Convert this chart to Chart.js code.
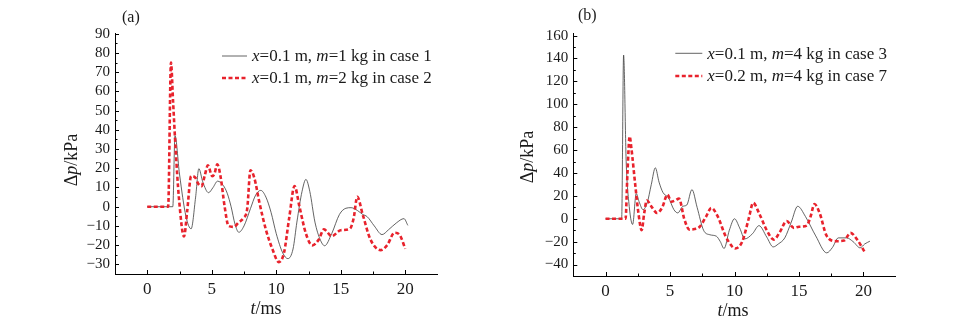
<!DOCTYPE html>
<html>
<head>
<meta charset="utf-8">
<script src="https://cdn.jsdelivr.net/npm/chart.js@4.4.1/dist/chart.umd.min.js"></script>
<style>
  html, body { margin: 0; padding: 0; background: #fff; }
  #wrap { position: relative; width: 962px; height: 325px; overflow: hidden; background: #fff; }
  .panel { position: absolute; top: 0; width: 481px; height: 325px; }
</style>
</head>
<body>
<div id="wrap">
  <div class="panel" style="left:0"><canvas id="chartA" width="481" height="325"></canvas></div>
  <div class="panel" style="left:481px"><canvas id="chartB" width="481" height="325"></canvas></div>
</div>
<script>
// ---- Pressure histories, t in ms, Δp in kPa ----
// (a) case 1: x=0.1 m, m=1 kg
const tCase1 = [0, 1.98, 2.15, 2.5, 3.0, 3.4, 3.75, 4.0, 4.3, 4.75, 5.1, 5.45, 5.9, 6.2, 6.5, 6.8, 7.1, 7.5, 8.0, 8.4, 8.8, 9.2, 9.6, 10.0, 10.5, 10.9, 11.3, 11.6, 12.0, 12.3, 12.6, 13.0, 13.4, 13.75, 14.3, 14.9, 15.4, 15.8, 16.3, 16.7, 17.05, 17.6, 18.2, 18.7, 19.3, 19.9, 20.2];
const pCase1 = [0, 0, 37, 17, -5, -11.5, 5, 19.8, 13, 7.3, 10, 13.3, 11, 7, 0, -9, -13.3, -10, -1, 6, 8.5, 5, -3, -14, -24, -27, -22, -8, 8, 14.2, 8, -8, -17, -20.3, -14, -4, -0.8, -0.5, -2, -4, -5.2, -10, -14.5, -12, -8.5, -6.2, -9.7];
// (a) case 2: x=0.1 m, m=2 kg
const tCase2 = [0, 1.62, 1.84, 2.0, 2.2, 2.45, 2.85, 3.1, 3.4, 3.74, 3.95, 4.21, 4.45, 4.7, 5.04, 5.2, 5.43, 5.7, 6.0, 6.3, 6.7, 7.1, 7.45, 7.75, 8.0, 8.3, 8.7, 9.2, 9.7, 10.2, 10.6, 11.0, 11.42, 11.8, 12.3, 12.8, 13.3, 13.7, 14.3, 15.0, 15.7, 16.0, 16.28, 16.7, 17.3, 18.1, 18.6, 19.17, 19.6, 20.0];
const pCase2 = [0, 0, 75, 55, 30, 5, -15.5, -2, 15.9, 15, 12, 10.7, 16, 21.5, 15.9, 17, 22, 15, 0, -10, -10.5, -8, -6, -1, 19, 15, 2, -12, -22, -28.8, -24, -6, 10.7, 0, -14, -20.1, -17, -11.8, -15.3, -12.2, -11.5, -6, 5.2, -4, -17, -22.6, -20, -13.5, -15, -21.9];
// (b) case 3: x=0.1 m, m=4 kg
const tCase3 = [0, 1.25, 1.4, 1.6, 1.8, 2.1, 2.38, 2.6, 2.9, 3.23, 3.55, 3.86, 4.15, 4.45, 4.9, 5.3, 5.6, 6.0, 6.3, 6.7, 7.1, 7.6, 8.1, 8.6, 8.9, 9.19, 9.6, 10.0, 10.4, 10.8, 11.4, 11.9, 12.5, 13.0, 13.4, 13.9, 14.4, 14.9, 15.5, 16.3, 17.15, 17.6, 18.05, 18.7, 19.2, 19.74, 20.1, 20.5];
const pCase3 = [0, 0, 143, 50, 15, -5, 22, 15, 8, 13.9, 30, 44.5, 32, 23, 18, 8, 5.1, 10.9, 12, 25.5, 10, -10, -14, -15.3, -20, -26, -10, 0, -8, -17.6, -13, -6, -16, -24.6, -22, -16.7, -3, 10.9, 2, -15, -29.8, -25, -16.7, -16.7, -20, -25.4, -22, -19.6];
// (b) case 7: x=0.2 m, m=4 kg
const tCase7 = [0, 1.55, 1.7, 1.87, 2.0, 2.3, 2.55, 2.8, 3.0, 3.2, 3.6, 4.0, 4.4, 4.8, 5.1, 5.4, 5.7, 6.1, 6.5, 6.9, 7.3, 7.8, 8.2, 8.7, 9.3, 9.8, 10.05, 10.6, 11.1, 11.45, 11.9, 12.5, 13.05, 13.5, 14.04, 14.6, 15.0, 15.6, 15.9, 16.2, 16.6, 17.15, 17.9, 18.5, 19.0, 19.5, 20.07];
const pCase7 = [0, 0, 40, 72, 62, 30, 5, -10, 5, 16, 10, 5, 10, 21, 15, 16, 17.6, 0, -9.5, -9, -7, 2, 9.5, 2, -15, -24, -26, -20, 0, 13.9, 5, -10, -18.2, -12, -2, -8, -7, -6, 2, 12.8, 5, -15, -19.6, -19, -12.3, -18, -28.5];

// ---- Axis ticks ----
const timeTicks = [0, 5, 10, 15, 20];
const pressureTicksA = [-30, -20, -10, 0, 10, 20, 30, 40, 50, 60, 70, 80, 90];
const pressureTicksB = [-40, -20, 0, 20, 40, 60, 80, 100, 120, 140, 160];

// ---- Legend texts (segments: [text, italic]) ----
const legendCase1 = [['x', true], ['=0.1 m, ', false], ['m', true], ['=1 kg in case 1', false]];
const legendCase2 = [['x', true], ['=0.1 m, ', false], ['m', true], ['=2 kg in case 2', false]];
const legendCase3 = [['x', true], ['=0.1 m, ', false], ['m', true], ['=4 kg in case 3', false]];
const legendCase7 = [['x', true], ['=0.2 m, ', false], ['m', true], ['=4 kg in case 7', false]];
const yTitle = [['Δ', false], ['p', true], ['/kPa', false]];
const xTitle = [['t', true], ['/ms', false]];

const SERIF = "'Liberation Serif', 'DejaVu Serif', serif";
const INK = '#1a1a1a';
const RED = '#e8222c';
const GREY = '#3c3c3c';

function pairs(ts, ps) { return ts.map((t, i) => ({ x: t, y: ps[i] })); }
function fmt(v) { return v < 0 ? '\u2212' + Math.abs(v) : String(v); }

function richWidth(ctx, segs, size) {
  let w = 0;
  for (const [txt, it] of segs) {
    ctx.font = (it ? 'italic ' : '') + size + 'px ' + SERIF;
    w += ctx.measureText(txt).width;
  }
  return w;
}
function drawRich(ctx, segs, x, y, size) {
  ctx.textBaseline = 'middle';
  ctx.textAlign = 'left';
  for (const [txt, it] of segs) {
    ctx.font = (it ? 'italic ' : '') + size + 'px ' + SERIF;
    ctx.fillText(txt, x, y);
    x += ctx.measureText(txt).width;
  }
}

// Inward major/minor tick marks, legend, axis titles and panel tag
const decorations = {
  id: 'decorations',
  afterDraw(chart, args, o) {
    const ctx = chart.ctx;
    const a = chart.chartArea;
    const xs = chart.scales.x, ys = chart.scales.y;
    ctx.save();
    ctx.strokeStyle = '#000';
    ctx.lineWidth = 1;
    const xt = o.xTicks, yt = o.yTicks;
    const xMinor = xt.slice(1).map((v, i) => (v + xt[i]) / 2);
    const yMinor = yt.slice(1).map((v, i) => (v + yt[i]) / 2);
    ctx.beginPath();
    for (const v of xt) { const p = Math.round(xs.getPixelForValue(v)) + 0.5; ctx.moveTo(p, a.bottom); ctx.lineTo(p, a.bottom - 4); }
    for (const v of xMinor) { const p = Math.round(xs.getPixelForValue(v)) + 0.5; ctx.moveTo(p, a.bottom); ctx.lineTo(p, a.bottom - 2.5); }
    for (const v of yt) { const p = Math.round(ys.getPixelForValue(v)) + 0.5; ctx.moveTo(a.left, p); ctx.lineTo(a.left + 4, p); }
    for (const v of yMinor) { const p = Math.round(ys.getPixelForValue(v)) + 0.5; ctx.moveTo(a.left, p); ctx.lineTo(a.left + 2.5, p); }
    ctx.stroke();

    // legend
    ctx.fillStyle = INK;
    chart.data.datasets.forEach((ds, i) => {
      const y = a.top + o.legend.rows[i];
      ctx.save();
      ctx.strokeStyle = ds.borderColor;
      ctx.lineWidth = ds.borderWidth;
      ctx.setLineDash(ds.borderDash || []);
      ctx.beginPath();
      ctx.moveTo(a.left + o.legend.x0, y);
      ctx.lineTo(a.left + o.legend.x1, y);
      ctx.stroke();
      ctx.restore();
      drawRich(ctx, o.legend.texts[i], a.left + o.legend.textX, y + 1, 17);
    });

    // axis titles
    const wx = richWidth(ctx, xTitle, 18);
    drawRich(ctx, xTitle, o.xTitlePos[0] - wx / 2, o.xTitlePos[1], 18);
    ctx.save();
    ctx.translate(o.yTitlePos[0], o.yTitlePos[1]);
    ctx.rotate(-Math.PI / 2);
    const wy = richWidth(ctx, yTitle, 18);
    drawRich(ctx, yTitle, -wy / 2, 0, 18);
    ctx.restore();

    // panel tag
    ctx.font = '16px ' + SERIF;
    ctx.textBaseline = 'middle';
    ctx.textAlign = 'left';
    ctx.fillText(o.tag, o.tagPos[0], o.tagPos[1]);
    ctx.restore();
  }
};

function makeChart(id, cfg) {
  const setTicks = list => scale => { scale.ticks = list.map(v => ({ value: v })); };
  return new Chart(document.getElementById(id), {
    type: 'line',
    data: {
      datasets: [
        { label: 'black', data: cfg.blackData, borderColor: GREY, borderWidth: 0.8,
          pointRadius: 0, cubicInterpolationMode: 'monotone', order: 2, fill: false },
        { label: 'red', data: cfg.redData, borderColor: RED, borderWidth: 2.6, borderDash: [4, 2.5],
          pointRadius: 0, cubicInterpolationMode: 'monotone', order: 1, fill: false }
      ]
    },
    options: {
      responsive: false,
      devicePixelRatio: 1,
      animation: false,
      events: [],
      layout: { padding: cfg.padding },
      plugins: {
        legend: { display: false },
        tooltip: { enabled: false },
        decorations: cfg.deco
      },
      scales: {
        x: {
          type: 'linear', position: 'bottom', min: -2.5, max: 22.5,
          afterBuildTicks: setTicks(timeTicks),
          afterFit: s => { s.height = cfg.xAxisHeight; },
          grid: { display: false, drawTicks: false },
          border: { display: true, color: '#000', width: 1 },
          ticks: { font: { family: SERIF, size: 17 }, color: INK, padding: 5, maxRotation: 0, autoSkip: false, callback: fmt }
        },
        y: {
          type: 'linear', position: 'left', min: cfg.yMin, max: cfg.yMax,
          afterBuildTicks: setTicks(cfg.yTicks),
          afterFit: s => { s.width = cfg.yAxisWidth; },
          grid: { display: false, drawTicks: false },
          border: { display: true, color: '#000', width: 1 },
          ticks: { font: { family: SERIF, size: 15 }, color: INK, padding: 5, autoSkip: false, callback: fmt }
        }
      }
    },
    plugins: [decorations]
  });
}

makeChart('chartA', {
  blackData: pairs(tCase1, pCase1),
  redData: pairs(tCase2, pCase2),
  yMin: -35, yMax: 90, yTicks: pressureTicksA,
  yAxisWidth: 115, xAxisHeight: 51,
  padding: { left: 0, right: 43.5, top: 33.7, bottom: 0 },
  deco: {
    xTicks: timeTicks, yTicks: pressureTicksA,
    legend: { x0: 107, x1: 132, textX: 137, rows: [22.3, 44.3], texts: [legendCase1, legendCase2] },
    xTitlePos: [266, 309], yTitlePos: [72, 160],
    tag: '(a)', tagPos: [122, 18]
  }
});

makeChart('chartB', {
  blackData: pairs(tCase3, pCase3),
  redData: pairs(tCase7, pCase7),
  yMin: -50, yMax: 162, yTicks: pressureTicksB,
  yAxisWidth: 92.3, xAxisHeight: 49,
  padding: { left: 0, right: 66.3, top: 33.3, bottom: 0 },
  deco: {
    xTicks: timeTicks, yTicks: pressureTicksB,
    legend: { x0: 102, x1: 129, textX: 134, rows: [20, 42.7], texts: [legendCase3, legendCase7] },
    xTitlePos: [252, 311], yTitlePos: [47, 157],
    tag: '(b)', tagPos: [97, 16]
  }
});
</script>
</body>
</html>
